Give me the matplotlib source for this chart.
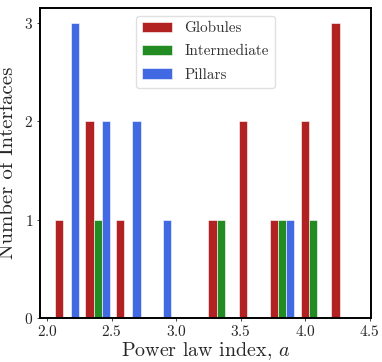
import numpy as np
import matplotlib
matplotlib.use("Agg")
import matplotlib.pyplot as plt

# histogram bins (10 equal bins between min and max of the sample)
bin_lo = 2.032
bin_hi = 4.418
n_bins = 10

labels = ["Globules", "Intermediate", "Pillars"]
colors = ["firebrick", "forestgreen", "royalblue"]

# counts per bin
globules = [1, 2, 1, 0, 0, 1, 2, 1, 2, 3]
intermediate = [0, 1, 0, 0, 0, 1, 0, 1, 1, 0]
pillars = [3, 2, 2, 1, 0, 0, 0, 1, 0, 0]

plt.rcParams["font.family"] = "serif"
plt.rcParams["font.serif"] = ["cmr10"]
plt.rcParams["mathtext.fontset"] = "cm"
plt.rcParams["axes.formatter.use_mathtext"] = True
plt.rcParams["axes.unicode_minus"] = False

edges = np.linspace(bin_lo, bin_hi, n_bins + 1)
centers = 0.5 * (edges[:-1] + edges[1:])

fig = plt.figure(figsize=(3.82, 3.62), dpi=100)
ax = fig.add_axes([39.5 / 382, 44 / 362, 331.5 / 382, 310 / 362])

ax.hist([centers, centers, centers], bins=edges,
        weights=[globules, intermediate, pillars],
        color=colors, label=labels, edgecolor="white", linewidth=0.4)

ax.set_yticks([0, 1, 2, 3])
ax.set_xticks([2.0, 2.5, 3.0, 3.5, 4.0, 4.5])
ax.tick_params(length=2.5, width=0.6, labelsize=11, colors="0.15", pad=2)
for s in ax.spines.values():
    s.set_linewidth(1.4)
    s.set_color("black")

ax.set_xlabel("Power law index, $a$", fontsize=14.4, color="0.15", labelpad=1)
ax.set_ylabel("Number of Interfaces", fontsize=15, color="0.15", labelpad=5)

leg = ax.legend(loc="upper center", fontsize=10.9, frameon=True,
                labelcolor="0.2", labelspacing=0.62)
leg.get_frame().set_edgecolor("0.85")

fig.savefig("out.png", dpi=100)
